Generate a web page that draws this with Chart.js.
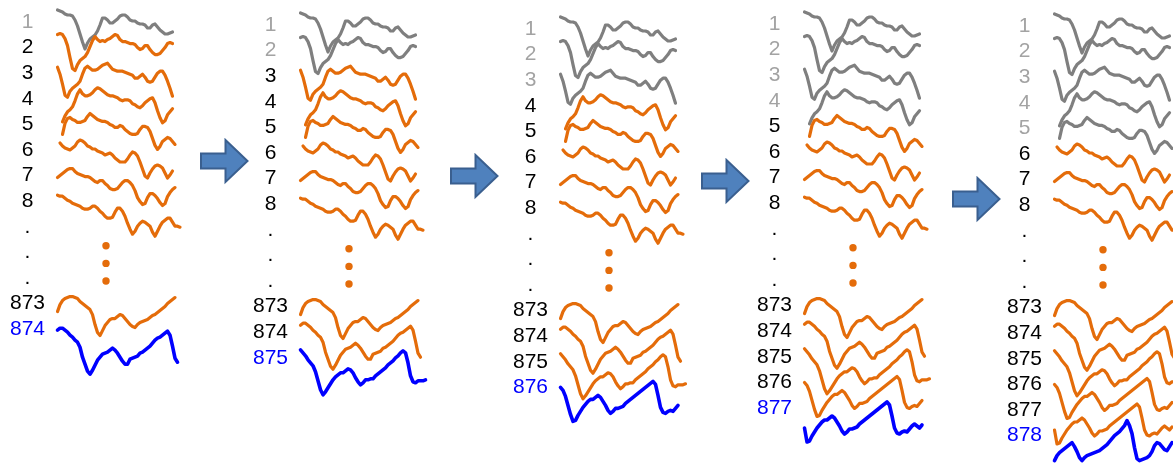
<!DOCTYPE html>
<html>
<head>
<meta charset="utf-8">
<script src="https://cdn.jsdelivr.net/npm/chart.js@4.4.1/dist/chart.umd.min.js"></script>
<style>
  html, body { margin: 0; padding: 0; background: #ffffff; overflow: hidden; }
  #stage { position: relative; width: 1173px; height: 466px; overflow: hidden; background: #ffffff; }
  .panel { position: absolute; }
  .arrow { position: absolute; }
</style>
</head>
<body>
<div id="stage"></div>
<script>
// Window samples (one every 2.5 units of time), amplitude measured from each row's line.
const early1 = [12,11,10,8,7,7,6,2,-4,-12,-20,-27,-21,-17,-15,-13,-9,-3,4,4,2,-1,-1,1,3,6,7,7,5,2,1,1,-1,-2,-2,-3,-6,-6,-3,-2,-5,-8,-10,-12,-12,-11,-10];
const early2 = [13,14,13,9,2,-10,-21,-23,-17,-13,-11,-9,-5,1,7,11,8,6,7,6,8,9,11,13,12,8,6,6,5,4,4,3,0,-2,-1,2,2,-2,-5,-7,-7,-6,-3,0,4,5,4];
const early3 = [6,-1,-11,-22,-24,-18,-15,-13,-11,-8,-1,5,7,5,3,3,4,6,8,9,10,7,4,3,2,2,2,1,0,-1,-2,-5,-5,-3,-1,-4,-8,-9,-8,-4,0,2,2,-2,-8,-15,-23];
const early4 = [null,null,-23,-17,-13,-11,-8,-2,5,9,5,3,3,4,6,9,11,10,8,6,4,3,3,2,1,-1,-2,-1,-1,-2,-5,-6,-8,-9,-7,-4,-2,0,1,-4,-12,-19,-24,-22,-16,-13,-10];
const early5 = [null,null,-10,1,6,7,5,4,2,2,3,4,8,11,9,7,5,4,3,3,2,0,-1,-3,-3,-1,-2,-5,-7,-9,-10,-10,-9,-5,-2,-2,-3,-7,-14,-21,-25,-22,-17,-15,-13,-14,-17,-20];
const early6 = [null,7,4,2,1,0,2,4,8,10,9,7,4,3,1,1,-1,-2,-3,-5,-4,-3,-5,-8,-10,-12,-12,-12,-9,-5,-2,-3,-6,-12,-19,-26,-28,-23,-19,-16,-15,-16,-18,-23,-28,-25,-21];
const early7 = [-2,0,2,4,6,7,7,4,2,1,0,-1,-1,-2,-4,-6,-7,-5,-5,-8,-10,-13,-14,-14,-13,-10,-7,-5,-5,-7,-10,-15,-22,-26,-29,-28,-22,-18,-18,-20,-23,-27,-30,-28,-21,-17,-14,-12];
const early8 = [6,5,5,3,1,0,-2,-3,-4,-5,-7,-8,-8,-7,-5,-5,-7,-10,-12,-15,-17,-17,-16,-11,-7,-7,-10,-15,-22,-28,-33,-30,-25,-22,-20,-21,-23,-25,-31,-35,-30,-25,-21,-19,-17,-17,-21,-25,-25,-26];

const late873 = [-8,-1,3,5,6,7,7,6,5,2,0,-2,-4,-6,-11,-21,-29,-32,-27,-22,-19,-16,-15,-15,-13,-11,-12,-15,-18,-21,-23,-24,-21,-19,-18,-17,-16,-14,-12,-11,-9,-7,-5,-3,0,2,4,6];
const late874 = [7,9,9,7,5,2,0,-3,-5,-10,-20,-27,-34,-37,-33,-28,-23,-20,-17,-16,-15,-13,-11,-13,-16,-20,-24,-27,-27,-22,-21,-20,-19,-16,-15,-13,-11,-9,-6,-3,-1,0,2,4,6,2,-9,-21,-25];
const late875 = [8,5,2,-2,-5,-8,-14,-23,-32,-37,-34,-30,-26,-22,-19,-17,-15,-15,-13,-11,-12,-15,-20,-24,-27,-25,-22,-22,-21,-21,-18,-16,-14,-12,-10,-7,-5,-3,0,2,5,7,5,-5,-18,-24,-25,-23,-23,-23,-22];
const late876 = [0,-3,-9,-18,-27,-34,-33,-28,-24,-20,-17,-14,-12,-12,-10,-8,-10,-14,-18,-23,-26,-24,-21,-21,-20,-19,-16,-14,-12,-10,-8,-6,-4,-2,0,2,4,6,3,-8,-20,-25,-26,-24,-23,-24,-21,-18];
const late877 = [-20,-34,-33,-28,-24,-20,-17,-14,-12,-12,-10,-8,-10,-14,-18,-23,-26,-24,-21,-21,-20,-19,-16,-14,-12,-10,-8,-6,-4,-2,0,2,4,6,3,-8,-20,-25,-26,-24,-23,-24,-21,-18,-16,-18,-20,-17];
const late878 = [-25,-20,-17,-15,-13,-11,-9,-7,-11,-16,-22,-25,-22,-20,-19,-18,-17,-16,-15,-13,-11,-9,-6,-3,0,2,4,7,10,15,10,2,-12,-23,-25,-24,-23,-22,-20,-16,-10,-7,-8,-11,-14,-15,-11,-7];

const earlyLabels = ['1', '2', '3', '4', '5', '6', '7', '8'];
const gapLabels = ['.', '.', '.'];
const lateLabels = ['873', '874', '875', '876', '877', '878'];

// Vertical ellipsis standing for the omitted rows (row units) and its sample position.
const ellipsisRows = [8.74, 9.43, 10.12];
const ellipsisSample = 19.4;

const earlyRows = [early1, early2, early3, early4, early5, early6, early7, early8];
const lateRows = [late873, late874, late875, late876, late877, late878];

// Layout
const ROW_PX = 25.6;          // distance between row lines
const STEP_PX = 2.5;          // distance between samples
const FIRST_SAMPLE_PX = 57.5; // x of sample 0 within a panel
const FIRST_ROW_PX = 22;      // y of row 0 within a panel
const AXIS_W = 50;
const PANEL_W = 186;
const PANEL_H = 466;
const LABEL_FONT = { family: "'Liberation Sans', Arial, sans-serif", size: 21 };

const panels = [
  { left: 0,   top: 0,   drop: 8 },
  { left: 243, top: 3,   drop: 0 },
  { left: 503, top: 7,   drop: 0 },
  { left: 747, top: 2,   drop: 0 },
  { left: 997, top: 3.5, drop: 0 }
];
const arrows = [
  { left: 199, top: 138 },
  { left: 449, top: 153 },
  { left: 700, top: 158 },
  { left: 951, top: 176 }
];

const COLORS = {
  pastLine: '#7f7f7f',
  pastText: '#a3a3a3',
  line: '#e46c0a',
  fresh: '#0000ff',
  text: '#000000'
};

const stage = document.getElementById('stage');

function toPoints(values, row, drop) {
  return values.map((v, i) => ({ x: i, y: v === null ? null : row + (drop - v) / ROW_PX }));
}

function lineSet(values, row, color, drop, width, n) {
  return {
    type: 'line',
    data: toPoints(values, row, drop),
    borderColor: color,
    borderWidth: width,
    pointRadius: 0,
    tension: 0,
    spanGaps: false,
    borderJoinStyle: 'round',
    borderCapStyle: 'round',
    fill: false,
    order: -n
  };
}

panels.forEach((panel, p) => {
  const canvas = document.createElement('canvas');
  canvas.className = 'panel';
  canvas.width = PANEL_W;
  canvas.height = PANEL_H;
  canvas.style.left = panel.left + 'px';
  canvas.style.top = panel.top + 'px';
  canvas.style.width = PANEL_W + 'px';
  canvas.style.height = PANEL_H + 'px';
  stage.appendChild(canvas);

  // Rows before the window's start are drawn in gray; the newest row is blue.
  const pastCount = p + 1;
  const shownLate = p + 2;
  const labels = [...earlyLabels, ...gapLabels, ...lateLabels.slice(0, shownLate)];
  const lastIndex = labels.length - 1;

  const datasets = [];
  let n = 0;
  earlyRows.forEach((values, k) => {
    datasets.push(lineSet(values, k, k < pastCount ? COLORS.pastLine : COLORS.line, 0, 3.2, n++));
  });
  lateRows.slice(0, shownLate).forEach((values, j) => {
    const isNew = j === shownLate - 1;
    const row = earlyLabels.length + gapLabels.length + j;
    datasets.push(lineSet(values, row, isNew ? COLORS.fresh : COLORS.line,
      isNew ? panel.drop : 0, isNew ? 3.6 : 3.2, n++));
  });
  datasets.push({
    type: 'scatter',
    data: ellipsisRows.map(r => ({ x: ellipsisSample, y: r })),
    backgroundColor: COLORS.line,
    borderWidth: 0,
    pointRadius: 3.7,
    showLine: false,
    order: -n
  });

  new Chart(canvas, {
    type: 'line',
    data: { datasets },
    options: {
      responsive: false,
      animation: false,
      devicePixelRatio: 1,
      layout: { padding: 0, autoPadding: false },
      plugins: { legend: { display: false }, tooltip: { enabled: false } },
      events: [],
      scales: {
        x: {
          type: 'linear',
          display: false,
          min: (AXIS_W - FIRST_SAMPLE_PX) / STEP_PX,
          max: (PANEL_W - FIRST_SAMPLE_PX) / STEP_PX
        },
        y: {
          type: 'linear',
          position: 'left',
          reverse: true,
          min: -FIRST_ROW_PX / ROW_PX,
          max: (PANEL_H - FIRST_ROW_PX) / ROW_PX,
          afterBuildTicks: scale => { scale.ticks = labels.map((_, i) => ({ value: i })); },
          afterFit: scale => {
            scale.width = AXIS_W;
            scale.paddingTop = 0;
            scale.paddingBottom = 0;
          },
          grid: { display: false, drawTicks: false },
          border: { display: false },
          ticks: {
            autoSkip: false,
            crossAlign: 'center',
            padding: 5,
            font: LABEL_FONT,
            color: ctx => ctx.index === lastIndex ? COLORS.fresh
              : (ctx.index < pastCount ? COLORS.pastText : COLORS.text),
            callback: (value, index) => labels[index]
          }
        }
      }
    }
  });
});

// Block arrows between the panels
arrows.forEach(a => {
  const ns = 'http://www.w3.org/2000/svg';
  const svg = document.createElementNS(ns, 'svg');
  svg.setAttribute('class', 'arrow');
  svg.setAttribute('width', '52');
  svg.setAttribute('height', '48');
  svg.style.left = a.left + 'px';
  svg.style.top = a.top + 'px';
  const path = document.createElementNS(ns, 'path');
  path.setAttribute('d', 'M2 15.5 H26.5 V2 L48.5 23 L26.5 44 V30.5 H2 Z');
  path.setAttribute('fill', '#4f81bd');
  path.setAttribute('stroke', '#3a5f8f');
  path.setAttribute('stroke-width', '2');
  path.setAttribute('stroke-linejoin', 'miter');
  svg.appendChild(path);
  stage.appendChild(svg);
});
</script>
</body>
</html>
